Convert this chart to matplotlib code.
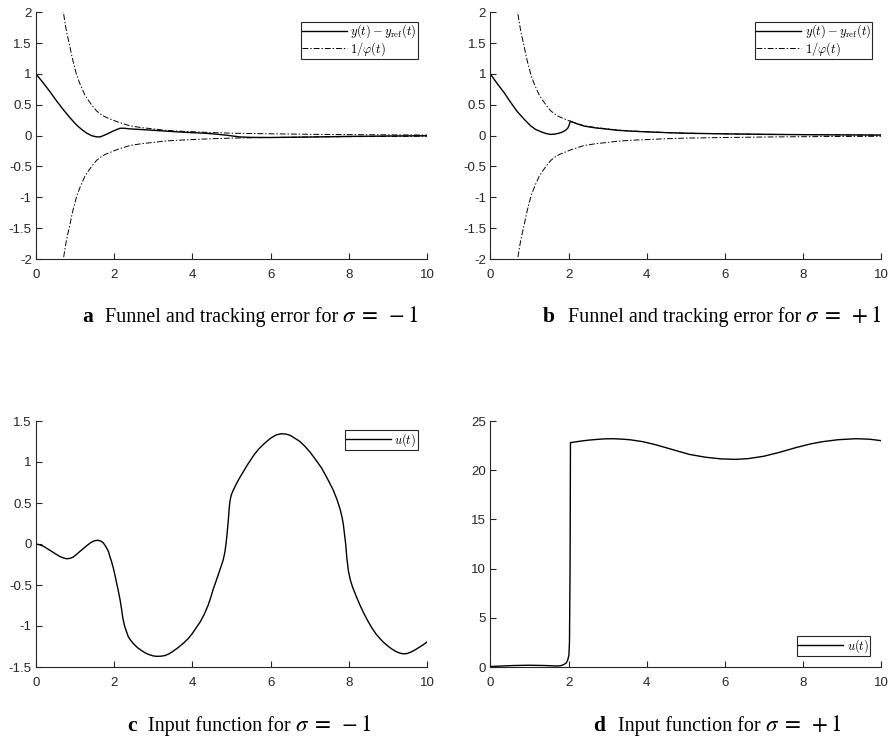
import matplotlib
matplotlib.use('Agg')
import matplotlib.pyplot as plt
from matplotlib.ticker import FuncFormatter
from matplotlib.font_manager import FontProperties

plt.rcParams['font.family'] = 'Liberation Sans'
plt.rcParams['axes.unicode_minus'] = False

funnel_t = [0.68, 0.70, 0.725, 0.75, 0.775, 0.80, 0.84, 0.875, 0.91, 0.95, 1.0, 1.04, 1.10,
            1.15, 1.20, 1.25, 1.32, 1.40, 1.47, 1.55, 1.65, 1.75, 1.86, 1.98, 2.1, 2.2, 2.3,
            2.4, 2.55, 2.7, 2.85, 3.0, 3.26, 3.6, 3.94, 4.5, 5.0, 6.0, 7.0, 8.0, 9.0, 10.0]
funnel_v = [2.15, 2.00, 1.90, 1.80, 1.71, 1.63, 1.52, 1.42, 1.31, 1.20, 1.08, 0.98, 0.88,
            0.80, 0.73, 0.66, 0.59, 0.52, 0.46, 0.40, 0.35, 0.31, 0.28, 0.25, 0.22, 0.20, 0.18,
            0.16, 0.145, 0.13, 0.12, 0.11, 0.09, 0.075, 0.065, 0.05, 0.04, 0.03, 0.022, 0.017,
            0.013, 0.01]

# tracking error, sigma = -1
err_a_t = [0, 0.18, 0.36, 0.53, 0.70, 0.87, 1.04, 1.17, 1.30, 1.42, 1.55, 1.64, 1.72, 1.83,
           1.94, 2.05, 2.15, 2.25, 2.40, 2.8, 3.26, 3.6, 3.94, 4.3, 4.6, 4.9, 5.2, 5.5,
           6.0, 7.0, 8.0, 9.0, 10.0]
err_a_v = [1.0, 0.86, 0.71, 0.56, 0.42, 0.29, 0.17, 0.10, 0.04, 0.0, -0.02, -0.02, 0.0, 0.03,
           0.065, 0.095, 0.12, 0.12, 0.11, 0.095, 0.076, 0.062, 0.05, 0.04, 0.025, 0.005, -0.02,
           -0.028, -0.03, -0.022, -0.012, -0.006, -0.002]

# tracking error, sigma = +1
err_b_t = [0, 0.17, 0.35, 0.52, 0.69, 0.86, 1.03, 1.16, 1.29, 1.42, 1.54, 1.65, 1.76, 1.85,
           1.93, 1.98, 2.01, 2.03, 2.05, 2.2, 2.4, 2.7, 3.0, 3.26, 3.6, 3.94, 4.5, 5.0,
           6.0, 7.0, 8.0, 9.0, 10.0]
err_b_v = [1.0, 0.85, 0.70, 0.54, 0.39, 0.27, 0.16, 0.10, 0.065, 0.035, 0.02, 0.025, 0.04, 0.06,
           0.09, 0.12, 0.16, 0.20, 0.235, 0.195, 0.155, 0.125, 0.105, 0.087, 0.073, 0.063, 0.049,
           0.039, 0.029, 0.021, 0.016, 0.012, 0.009]

# input u(t), sigma = -1
u_c_t = [0, 0.1, 0.2, 0.3, 0.4, 0.5, 0.6, 0.7, 0.78, 0.87, 0.95, 1.03, 1.1, 1.2, 1.3, 1.38,
         1.45, 1.52, 1.59, 1.66, 1.72, 1.77, 1.82, 1.86, 1.89, 1.93, 1.97, 2.01, 2.05, 2.10,
         2.15, 2.19, 2.22, 2.26, 2.30, 2.36, 2.43, 2.5, 2.6, 2.7, 2.8, 2.9, 3.0, 3.09, 3.2,
         3.3, 3.4, 3.5, 3.63, 3.77, 3.9, 4.0, 4.1, 4.2, 4.3, 4.4, 4.47, 4.54, 4.6, 4.65, 4.7,
         4.75, 4.79, 4.83, 4.86, 4.89, 4.92, 4.94, 4.96, 4.99, 5.02, 5.05, 5.12, 5.2, 5.3,
         5.4, 5.47, 5.58, 5.7, 5.85, 6.0, 6.14, 6.28, 6.4, 6.5, 6.62, 6.75, 6.88, 7.01, 7.15,
         7.3, 7.45, 7.6, 7.7, 7.78, 7.83, 7.86, 7.89, 7.92, 7.95, 7.99, 8.04, 8.1, 8.2, 8.29,
         8.4, 8.5, 8.6, 8.7, 8.8, 8.88, 9.0, 9.1, 9.2, 9.3, 9.39, 9.5, 9.6, 9.7, 9.8, 9.9, 10.0]
u_c_v = [0.0, -0.01, -0.03, -0.06, -0.09, -0.12, -0.15, -0.17, -0.18, -0.175, -0.16, -0.13,
         -0.10, -0.06, -0.02, 0.01, 0.03, 0.042, 0.045, 0.035, 0.015, -0.02, -0.06, -0.10,
         -0.155, -0.21, -0.28, -0.36, -0.45, -0.56, -0.68, -0.80, -0.90, -0.99, -1.05, -1.13,
         -1.18, -1.22, -1.265, -1.30, -1.33, -1.35, -1.365, -1.37, -1.368, -1.36, -1.34, -1.31,
         -1.265, -1.21, -1.15, -1.09, -1.02, -0.95, -0.86, -0.75, -0.65, -0.54, -0.46, -0.39,
         -0.32, -0.25, -0.19, -0.10, 0.0, 0.14, 0.30, 0.43, 0.52, 0.59, 0.63, 0.66, 0.73, 0.80,
         0.88, 0.96, 1.01, 1.09, 1.16, 1.23, 1.29, 1.33, 1.345, 1.34, 1.325, 1.29, 1.25, 1.19,
         1.12, 1.03, 0.93, 0.80, 0.66, 0.54, 0.42, 0.32, 0.24, 0.12, 0.0, -0.17, -0.33, -0.44,
         -0.53, -0.65, -0.75, -0.86, -0.95, -1.03, -1.10, -1.155, -1.195, -1.245, -1.28, -1.31,
         -1.33, -1.34, -1.335, -1.315, -1.29, -1.26, -1.23, -1.195]

# input u(t), sigma = +1
u_d_t = [0, 0.3, 0.6, 1.0, 1.4, 1.7, 1.8, 1.88, 1.94, 1.98, 2.01, 2.025, 2.04, 2.05, 2.3,
         2.5, 2.7, 2.9, 3.13, 3.4, 3.6, 3.9, 4.2, 4.5, 4.83, 5.1, 5.5, 5.9, 6.28, 6.6, 7.0,
         7.4, 7.82, 8.2, 8.5, 8.9, 9.35, 9.7, 10.0]
u_d_v = [0.05, 0.10, 0.15, 0.18, 0.15, 0.10, 0.13, 0.25, 0.40, 0.70, 1.2, 2.5, 10.0, 22.8,
         22.95, 23.05, 23.12, 23.18, 23.2, 23.15, 23.08, 22.9, 22.62, 22.28, 21.9, 21.6, 21.32,
         21.15, 21.1, 21.18, 21.42, 21.82, 22.3, 22.68, 22.9, 23.1, 23.2, 23.15, 23.0]

cap_letters = ['a', 'b', 'c', 'd']
cap_words = ['Funnel and tracking error for', 'Funnel and tracking error for',
             'Input function for', 'Input function for']
cap_math = ['$\\sigma\\;=\\;-1$', '$\\sigma\\;=\\;+1$', '$\\sigma\\;=\\;-1$', '$\\sigma\\;=\\;+1$']

W, H = 892, 738
fig = plt.figure(figsize=(W / 100, H / 100), dpi=100)

def px_axes(left, top, right, bottom):
    return fig.add_axes([left / W, 1 - bottom / H, (right - left) / W, (bottom - top) / H])

ax_a = px_axes(36, 12.3, 427, 259)
ax_b = px_axes(490.3, 12.3, 881.3, 259)
ax_c = px_axes(36, 421, 427, 667)
ax_d = px_axes(490.3, 421, 881.3, 667)

axcol = '#262626'
legprop = FontProperties(family='DejaVu Serif', size=9, math_fontfamily='cm')
fmt = FuncFormatter(lambda v, p: '%g' % v)

def style(ax, ylim, yticks):
    ax.set_xlim(0, 10)
    ax.set_ylim(*ylim)
    ax.set_xticks(range(0, 11, 2))
    ax.set_yticks(yticks)
    ax.xaxis.set_major_formatter(fmt)
    ax.yaxis.set_major_formatter(fmt)
    for s in ['top', 'right']:
        ax.spines[s].set_visible(False)
    for s in ['left', 'bottom']:
        ax.spines[s].set_color(axcol)
        ax.spines[s].set_linewidth(0.8)
    ax.tick_params(direction='in', length=4, width=0.8, color=axcol,
                   labelcolor=axcol, labelsize=9.5)
    ax.tick_params(axis='x', pad=7)
    ax.tick_params(axis='y', pad=3)

def add_legend(ax, loc, pad):
    leg = ax.legend(loc=loc, prop=legprop, fancybox=False, framealpha=1,
                    edgecolor=axcol, handlelength=3.6, handletextpad=0.3,
                    borderaxespad=pad, borderpad=0.08, labelspacing=0.0)
    leg.get_frame().set_linewidth(0.8)

dash = (0, (6, 2, 1.5, 2))
for ax, et, ev in [(ax_a, err_a_t, err_a_v), (ax_b, err_b_t, err_b_v)]:
    ax.plot(et, ev, color='black', lw=1.0, label='$y(t) - y_{\\rm ref}(t)$')
    ax.plot(funnel_t, funnel_v, color='black', lw=0.7, ls=dash, label='$1/\\varphi(t)$')
    ax.plot(funnel_t, [-v for v in funnel_v], color='black', lw=0.7, ls=dash)
    style(ax, (-2, 2), [-2, -1.5, -1, -0.5, 0, 0.5, 1, 1.5, 2])
    add_legend(ax, 'upper right', 0.75)

ax_c.plot(u_c_t, u_c_v, color='black', lw=1.0, label='$u(t)$')
style(ax_c, (-1.5, 1.5), [-1.5, -1, -0.5, 0, 0.5, 1, 1.5])
add_legend(ax_c, 'upper right', 0.75)

ax_d.plot(u_d_t, u_d_v, color='black', lw=1.0, label='$u(t)$')
style(ax_d, (0, 25), [0, 5, 10, 15, 20, 25])
add_legend(ax_d, 'lower right', 0.9)

# captions: (letter x, words x, baseline y) in pixels; math follows the words
cap_pos = [(82, 105, 322), (543, 568, 322), (127, 148, 731), (593, 618, 731)]
renderer = fig.canvas.get_renderer()
for letter, words, math, (lx, tx, by) in zip(cap_letters, cap_words, cap_math, cap_pos):
    y = 1 - by / H
    fig.text(lx / W, y, letter, fontsize=15.5, fontweight='bold',
             family='Liberation Serif', va='baseline', ha='left')
    t = fig.text(tx / W, y, words, fontsize=14.5, family='Liberation Serif',
                 va='baseline', ha='left')
    x1 = t.get_window_extent(renderer).x1
    fig.text((x1 + 4) / W, y, math, fontsize=16.5, math_fontfamily='stix',
             va='baseline', ha='left')

fig.savefig('out.png', dpi=100)
